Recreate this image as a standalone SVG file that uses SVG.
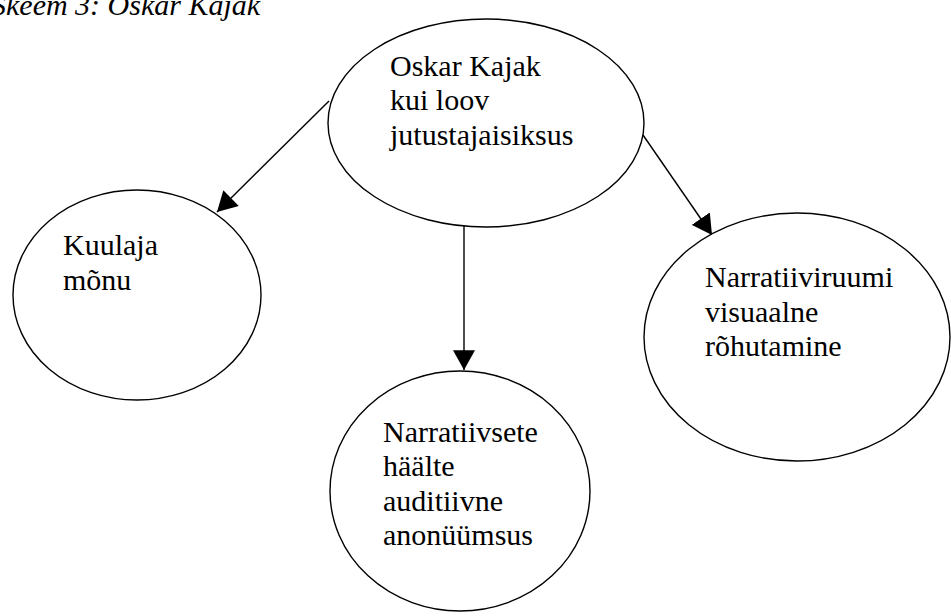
<svg xmlns="http://www.w3.org/2000/svg" width="951" height="616" viewBox="0 0 951 616">
  <style>
    .node { fill: #ffffff; stroke: #000000; stroke-width: 1.4; }
    .label { font-family: "Liberation Serif", "Times New Roman", serif; font-size: 30px; fill: #000000; }
    .title { font-family: "Liberation Serif", "Times New Roman", serif; font-size: 30px; font-style: italic; fill: #000000; }
    .edge { stroke: #000000; stroke-width: 1.4; fill: none; marker-end: url(#arrow); }
  </style>
  <defs>
    <marker id="arrow" markerUnits="userSpaceOnUse" markerWidth="20" markerHeight="22" viewBox="0 0 18 20" refX="18" refY="10" orient="auto">
      <path d="M0,0 L18,10 L0,20 Z" fill="#000000"/>
    </marker>
  </defs>
  <rect width="951" height="616" fill="#ffffff"/>

  <text class="title" x="-9" y="15">Skeem 3: Oskar Kajak</text>

  <g id="edges">
    <line class="edge" x1="329" y1="101" x2="217" y2="212"/>
    <line class="edge" x1="464" y1="226" x2="464" y2="370"/>
    <line class="edge" x1="643" y1="135" x2="712" y2="235"/>
  </g>

  <g id="oskar-kajak">
    <ellipse class="node" cx="486" cy="123" rx="158" ry="104"/>
    <text class="label" x="390" y="75.5">Oskar Kajak</text>
    <text class="label" x="390" y="110">kui loov</text>
    <text class="label" x="390" y="144.5">jutustajaisiksus</text>
  </g>

  <g id="kuulaja-monu">
    <ellipse class="node" cx="137" cy="295" rx="124" ry="105"/>
    <text class="label" x="63" y="255">Kuulaja</text>
    <text class="label" x="63" y="289.5">mõnu</text>
  </g>

  <g id="haalte-anonuumsus">
    <ellipse class="node" cx="460" cy="491" rx="130" ry="120"/>
    <text class="label" x="383" y="441.5">Narratiivsete</text>
    <text class="label" x="383" y="476">häälte</text>
    <text class="label" x="383" y="510.5">auditiivne</text>
    <text class="label" x="383" y="545">anonüümsus</text>
  </g>

  <g id="narratiiviruum">
    <ellipse class="node" cx="797" cy="337" rx="153" ry="124"/>
    <text class="label" x="705" y="287">Narratiiviruumi</text>
    <text class="label" x="705" y="321.5">visuaalne</text>
    <text class="label" x="705" y="356">rõhutamine</text>
  </g>
</svg>
